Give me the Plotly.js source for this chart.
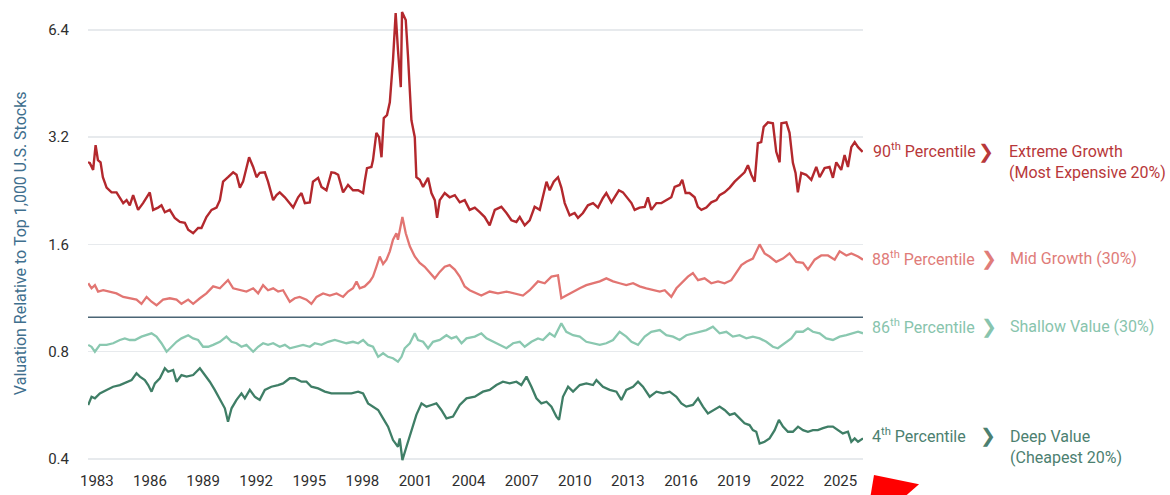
<!DOCTYPE html>
<html>
<head>
<meta charset="utf-8">
<script src="https://cdn.plot.ly/plotly-3.0.1.min.js"></script>
<style>html,body{margin:0;padding:0;background:#fff;}#chart{width:1170px;height:495px;}</style>
</head>
<body>
<div id="chart"></div>
<script>
// ---- Data ----
const tickYears = [1983,1986,1989,1992,1995,1998,2001,2004,2007,2010,2013,2016,2019,2022,2025];
const tickYearLabels = ["1983","1986","1989","1992","1995","1998","2001","2004","2007","2010","2013","2016","2019","2022","2025"];
const yTickVals = [0.4,0.8,1.6,3.2,6.4];
const yTickLabels = ["0.4","0.8","1.6","3.2","6.4"];
const refLevel = 1.0;
const xStart = 1982.5, xEnd = 2026.28;

const yrs90 = [1982.50,1982.60,1982.79,1982.93,1983.06,1983.21,1983.34,1983.55,1983.83,1984.11,1984.49,1984.68,1984.86,1985.05,1985.33,1985.61,1985.99,1986.18,1986.46,1986.65,1986.84,1987.12,1987.40,1987.69,1987.97,1988.16,1988.44,1988.72,1988.91,1989.19,1989.48,1989.76,1989.95,1990.13,1990.41,1990.70,1990.89,1991.08,1991.26,1991.45,1991.60,1991.83,1992.02,1992.20,1992.49,1992.67,1992.96,1993.15,1993.33,1993.62,1993.90,1994.09,1994.37,1994.56,1994.75,1995.03,1995.21,1995.50,1995.69,1995.97,1996.25,1996.44,1996.63,1996.91,1997.19,1997.47,1997.76,1998.04,1998.13,1998.26,1998.51,1998.60,1998.79,1998.94,1999.08,1999.21,1999.39,1999.55,1999.73,1999.88,2000.01,2000.17,2000.24,2000.45,2000.58,2000.77,2000.96,2001.05,2001.24,2001.43,2001.71,2001.90,2002.09,2002.22,2002.37,2002.65,2002.93,2003.22,2003.50,2003.78,2004.06,2004.35,2004.63,2004.91,2005.19,2005.48,2005.85,2006.14,2006.42,2006.70,2006.89,2007.17,2007.45,2007.73,2008.02,2008.20,2008.40,2008.58,2008.81,2009.05,2009.24,2009.43,2009.71,2009.99,2010.18,2010.46,2010.74,2011.03,2011.31,2011.59,2011.78,2012.07,2012.25,2012.49,2012.72,2013.00,2013.20,2013.38,2013.66,2013.95,2014.13,2014.32,2014.61,2014.89,2015.17,2015.45,2015.64,2015.92,2016.07,2016.26,2016.48,2016.77,2016.95,2017.15,2017.43,2017.71,2018.00,2018.18,2018.46,2018.75,2019.03,2019.31,2019.59,2019.78,2019.97,2020.16,2020.34,2020.53,2020.67,2020.91,2021.19,2021.38,2021.57,2021.67,2021.95,2022.13,2022.32,2022.47,2022.60,2022.79,2023.07,2023.36,2023.64,2023.83,2024.11,2024.39,2024.58,2024.77,2025.05,2025.24,2025.43,2025.62,2025.81,2026.00,2026.26];
const val90 = [2.72,2.71,2.59,3.04,2.76,2.72,2.47,2.31,2.24,2.24,2.09,2.13,2.06,2.20,2.00,2.09,2.24,2.00,2.03,2.06,1.97,2.00,1.90,1.85,1.84,1.76,1.72,1.78,1.78,1.91,2.00,2.03,2.13,2.40,2.47,2.55,2.51,2.31,2.40,2.64,2.81,2.64,2.47,2.54,2.55,2.40,2.13,2.20,2.24,2.17,2.09,2.03,2.17,2.23,2.09,2.10,2.40,2.46,2.32,2.27,2.55,2.54,2.51,2.24,2.35,2.27,2.27,2.23,2.40,2.62,2.64,2.76,3.29,3.20,2.81,3.62,3.69,4.01,5.27,7.13,5.62,4.42,7.18,6.82,5.37,3.57,3.20,2.47,2.43,2.32,2.46,2.23,2.13,1.90,2.13,2.23,2.17,2.20,2.10,2.13,2.00,2.03,1.97,1.91,1.81,2.00,2.04,1.96,1.87,1.85,1.91,1.81,1.87,2.04,2.00,2.17,2.40,2.27,2.40,2.47,2.31,2.09,1.93,1.96,1.90,1.96,2.06,2.09,2.03,2.16,2.23,2.10,2.17,2.27,2.24,2.16,2.09,2.00,2.03,2.04,2.17,2.00,2.09,2.09,2.13,2.17,2.32,2.35,2.43,2.23,2.23,2.17,2.04,2.00,2.03,2.10,2.13,2.20,2.24,2.31,2.40,2.47,2.55,2.67,2.51,2.40,3.08,3.10,3.42,3.52,3.50,2.91,2.72,3.50,3.52,3.29,2.71,2.54,2.24,2.54,2.51,2.43,2.64,2.47,2.62,2.64,2.46,2.72,2.59,2.85,2.64,3.00,3.10,3.00,2.91];

const yrs88 = [1982.51,1982.70,1982.89,1983.07,1983.36,1983.73,1984.11,1984.49,1984.86,1985.24,1985.52,1985.81,1986.09,1986.37,1986.74,1987.12,1987.50,1987.78,1988.16,1988.44,1988.82,1989.19,1989.57,1989.95,1990.23,1990.41,1990.70,1991.08,1991.45,1991.83,1992.11,1992.39,1992.67,1992.96,1993.24,1993.52,1993.90,1994.18,1994.46,1994.84,1995.12,1995.41,1995.78,1996.16,1996.54,1996.91,1997.19,1997.47,1997.67,1997.85,1998.13,1998.42,1998.60,1998.79,1998.98,1999.17,1999.36,1999.55,1999.73,1999.92,2000.01,2000.15,2000.26,2000.45,2000.68,2000.96,2001.24,2001.52,2001.80,2002.09,2002.37,2002.65,2002.93,2003.22,2003.50,2003.78,2004.06,2004.44,2004.72,2005.19,2005.66,2006.14,2006.60,2007.07,2007.45,2007.92,2008.30,2008.68,2009.05,2009.24,2009.52,2009.90,2010.28,2010.65,2011.03,2011.41,2011.78,2012.16,2012.53,2012.91,2013.29,2013.66,2014.04,2014.42,2014.80,2015.08,2015.45,2015.74,2016.11,2016.39,2016.67,2016.96,2017.33,2017.71,2018.09,2018.46,2018.84,2019.12,2019.41,2019.69,2020.06,2020.44,2020.72,2021.00,2021.38,2021.76,2022.13,2022.51,2022.89,2023.17,2023.55,2023.92,2024.30,2024.68,2024.96,2025.34,2025.62,2026.00,2026.28];
const val88 = [1.245,1.205,1.23,1.18,1.19,1.18,1.166,1.14,1.13,1.12,1.09,1.14,1.105,1.08,1.12,1.13,1.12,1.09,1.12,1.09,1.13,1.166,1.22,1.205,1.245,1.27,1.205,1.19,1.18,1.205,1.166,1.23,1.19,1.205,1.18,1.19,1.105,1.13,1.14,1.12,1.09,1.14,1.166,1.15,1.166,1.14,1.18,1.205,1.26,1.205,1.22,1.26,1.30,1.385,1.48,1.41,1.45,1.53,1.65,1.72,1.65,1.79,1.91,1.72,1.58,1.48,1.42,1.385,1.33,1.285,1.34,1.385,1.40,1.36,1.30,1.22,1.19,1.17,1.15,1.18,1.166,1.18,1.166,1.15,1.19,1.26,1.245,1.30,1.31,1.13,1.15,1.18,1.205,1.23,1.245,1.26,1.285,1.26,1.245,1.23,1.245,1.22,1.205,1.19,1.18,1.19,1.14,1.205,1.26,1.30,1.33,1.27,1.285,1.245,1.26,1.245,1.27,1.33,1.40,1.43,1.46,1.60,1.51,1.48,1.43,1.46,1.51,1.43,1.42,1.36,1.45,1.49,1.49,1.45,1.53,1.49,1.51,1.48,1.45];

const yrs86 = [1982.51,1982.70,1982.89,1983.17,1983.55,1983.92,1984.30,1984.58,1984.86,1985.15,1985.52,1985.81,1986.09,1986.37,1986.65,1986.94,1987.22,1987.50,1987.78,1988.16,1988.44,1988.72,1989.00,1989.29,1989.57,1989.95,1990.32,1990.61,1990.89,1991.17,1991.45,1991.83,1992.11,1992.39,1992.67,1992.96,1993.33,1993.62,1993.90,1994.28,1994.65,1995.03,1995.31,1995.69,1996.06,1996.44,1996.82,1997.10,1997.47,1997.76,1998.04,1998.32,1998.60,1998.89,1999.17,1999.45,1999.73,2000.01,2000.21,2000.39,2000.68,2000.96,2001.14,2001.43,2001.71,2001.99,2002.37,2002.75,2003.03,2003.31,2003.60,2003.88,2004.35,2004.72,2005.01,2005.38,2005.76,2006.14,2006.51,2006.89,2007.17,2007.55,2007.92,2008.20,2008.58,2008.86,2009.24,2009.52,2009.90,2010.28,2010.65,2011.03,2011.41,2011.78,2012.16,2012.53,2012.91,2013.20,2013.57,2013.95,2014.32,2014.80,2015.17,2015.55,2015.92,2016.30,2016.67,2017.05,2017.43,2017.80,2018.18,2018.56,2018.93,2019.31,2019.69,2020.06,2020.44,2020.82,2021.19,2021.47,2021.85,2022.23,2022.51,2022.89,2023.17,2023.45,2023.83,2024.20,2024.58,2024.96,2025.34,2025.71,2026.00,2026.28];
const val86 = [0.836,0.826,0.80,0.836,0.836,0.845,0.863,0.872,0.863,0.863,0.882,0.89,0.901,0.882,0.845,0.80,0.826,0.853,0.872,0.89,0.872,0.863,0.826,0.826,0.836,0.853,0.882,0.853,0.845,0.826,0.836,0.80,0.826,0.845,0.836,0.845,0.826,0.836,0.818,0.826,0.836,0.826,0.845,0.836,0.853,0.863,0.853,0.845,0.853,0.845,0.863,0.836,0.826,0.774,0.792,0.774,0.767,0.750,0.774,0.818,0.845,0.901,0.863,0.853,0.818,0.853,0.863,0.89,0.872,0.882,0.845,0.872,0.882,0.901,0.872,0.853,0.836,0.818,0.845,0.853,0.826,0.853,0.872,0.863,0.901,0.882,0.961,0.910,0.89,0.882,0.853,0.845,0.836,0.845,0.863,0.910,0.882,0.853,0.836,0.882,0.910,0.92,0.89,0.882,0.863,0.89,0.901,0.910,0.92,0.940,0.901,0.910,0.882,0.89,0.872,0.882,0.872,0.853,0.826,0.818,0.845,0.872,0.910,0.910,0.930,0.910,0.901,0.872,0.863,0.882,0.89,0.901,0.910,0.901];

const yrs4 = [1982.51,1982.70,1982.89,1983.17,1983.55,1983.92,1984.30,1984.68,1984.96,1985.24,1985.43,1985.71,1985.90,1986.09,1986.28,1986.56,1986.84,1987.03,1987.31,1987.50,1987.78,1988.07,1988.44,1988.82,1989.10,1989.38,1989.66,1989.95,1990.23,1990.41,1990.61,1990.89,1991.17,1991.36,1991.64,1991.92,1992.20,1992.49,1992.86,1993.24,1993.52,1993.90,1994.18,1994.56,1994.84,1995.12,1995.50,1995.88,1996.25,1996.63,1997.00,1997.38,1997.76,1998.04,1998.32,1998.60,1998.89,1999.17,1999.45,1999.73,2000.01,2000.11,2000.26,2000.49,2000.77,2001.05,2001.34,2001.62,2001.90,2002.18,2002.46,2002.75,2003.12,2003.50,2003.88,2004.35,2004.81,2005.19,2005.57,2005.94,2006.32,2006.70,2006.98,2007.27,2007.55,2007.83,2008.11,2008.40,2008.68,2008.96,2009.11,2009.33,2009.62,2009.90,2010.28,2010.65,2011.03,2011.22,2011.59,2011.97,2012.35,2012.63,2012.91,2013.29,2013.57,2013.85,2014.23,2014.61,2014.98,2015.36,2015.74,2016.02,2016.30,2016.67,2016.96,2017.24,2017.52,2017.90,2018.18,2018.46,2018.75,2019.03,2019.31,2019.59,2019.87,2020.06,2020.25,2020.44,2020.72,2021.00,2021.29,2021.53,2021.76,2022.04,2022.32,2022.61,2022.89,2023.17,2023.45,2023.73,2024.02,2024.30,2024.58,2024.86,2025.14,2025.43,2025.62,2025.81,2026.00,2026.28];
const val4 = [0.567,0.598,0.592,0.611,0.625,0.638,0.645,0.659,0.666,0.696,0.681,0.666,0.645,0.618,0.652,0.674,0.719,0.703,0.711,0.659,0.688,0.681,0.688,0.719,0.688,0.659,0.625,0.586,0.555,0.509,0.555,0.586,0.611,0.592,0.625,0.598,0.586,0.625,0.638,0.645,0.652,0.674,0.674,0.659,0.659,0.638,0.631,0.618,0.611,0.611,0.611,0.611,0.618,0.611,0.573,0.561,0.549,0.520,0.493,0.452,0.433,0.457,0.397,0.433,0.482,0.532,0.573,0.561,0.567,0.573,0.549,0.520,0.526,0.567,0.592,0.598,0.618,0.625,0.645,0.659,0.652,0.659,0.645,0.681,0.638,0.592,0.573,0.579,0.561,0.526,0.515,0.598,0.638,0.618,0.645,0.652,0.645,0.666,0.638,0.625,0.618,0.586,0.625,0.638,0.659,0.638,0.598,0.618,0.611,0.618,0.598,0.573,0.561,0.567,0.592,0.561,0.537,0.549,0.561,0.549,0.532,0.537,0.520,0.504,0.498,0.482,0.477,0.442,0.447,0.457,0.482,0.515,0.493,0.477,0.477,0.493,0.482,0.477,0.482,0.482,0.488,0.493,0.493,0.482,0.472,0.477,0.447,0.457,0.447,0.457];

// ---- Styles ----
const C90 = "#b3282d", C88 = "#e27572", C86 = "#8ac8b0", C4 = "#3f7e66";
const T90 = "#b8383a", T88 = "#e07c79", T86 = "#88c4ad", T4 = "#4c8070";
const FONT = "Roboto, 'Open Sans', sans-serif";

function line(x, y, color, w) {
  return {x: x, y: y, type: "scatter", mode: "lines", line: {color: color, width: w}, hoverinfo: "skip", showlegend: false};
}

const traces = [
  line([xStart, xEnd], [refLevel, refLevel], "#4a6575", 1.5),
  line(yrs4, val4, C4, 2.3),
  line(yrs86, val86, C86, 2.3),
  line(yrs88, val88, C88, 2.3),
  line(yrs90, val90, C90, 2.4)
];

function txt(text, x, y, color, opts) {
  return Object.assign({text: text, xref: "paper", yref: "paper", x: x, y: y, xanchor: "left", yanchor: "middle",
    showarrow: false, align: "left", font: {family: FONT, size: 16, color: color}}, opts || {});
}
function chev(x, y, color) {
  return {text: "<b>❯</b>", xref: "paper", yref: "paper", x: x, y: y, xanchor: "center", yanchor: "middle",
    showarrow: false, font: {family: "'DejaVu Sans', sans-serif", size: 19, color: color}};
}

const annotations = [
  {text: "Valuation Relative to Top 1,000 U.S. Stocks", xref: "paper", yref: "paper", x: -0.0877, y: 0.479,
   xanchor: "center", yanchor: "middle", textangle: -90, showarrow: false,
   font: {family: FONT, size: 16, color: "#3f6f8e"}},
  txt("90<sup>th</sup> Percentile", 1.0103, 0.681, T90),
  chev(1.1587, 0.6805, T90),
  txt("Extreme Growth<br>(Most Expensive 20%)", 1.1858, 0.6567, T90),
  txt("88<sup>th</sup> Percentile", 1.009, 0.4457, T88),
  chev(1.1626, 0.4457, T88),
  txt("Mid Growth (30%)", 1.187, 0.4457, T88),
  txt("86<sup>th</sup> Percentile", 1.009, 0.296, T86),
  chev(1.1626, 0.296, T86),
  txt("Shallow Value (30%)", 1.187, 0.296, T86),
  txt("4<sup>th</sup> Percentile", 1.009, 0.0569, T4),
  chev(1.1613, 0.0569, T4),
  txt("Deep Value<br>(Cheapest 20%)", 1.187, 0.0328, T4)
];

const layout = {
  width: 1170, height: 495,
  margin: {l: 88, r: 307, t: 5, b: 33},
  paper_bgcolor: "#ffffff", plot_bgcolor: "#ffffff",
  showlegend: false,
  font: {family: FONT},
  xaxis: {
    range: [xStart, xEnd], tickvals: tickYears, ticktext: tickYearLabels,
    showgrid: false, zeroline: false, showline: false, ticks: "",
    ticklabelstandoff: 8,
    tickfont: {family: FONT, size: 15, color: "#2e2e2e"}
  },
  yaxis: {
    type: "log", range: [-0.4064, 0.876],
    tickvals: yTickVals, ticktext: yTickLabels,
    showgrid: true, gridcolor: "#e7eaed", gridwidth: 1.5,
    zeroline: false, showline: false, ticks: "",
    ticklabelstandoff: 18,
    tickfont: {family: FONT, size: 15, color: "#2e2e2e"}
  },
  annotations: annotations,
  shapes: [
    {type: "path", xref: "paper", yref: "paper",
     path: "M 1.0142 -0.0284 L 1.0723 -0.0488 L 1.0564 -0.0722 L 1.0099 -0.0722 Z",
     fillcolor: "#ff0000", line: {width: 0}}
  ]
};

Plotly.newPlot("chart", traces, layout, {staticPlot: true, displayModeBar: false});
</script>
</body>
</html>
